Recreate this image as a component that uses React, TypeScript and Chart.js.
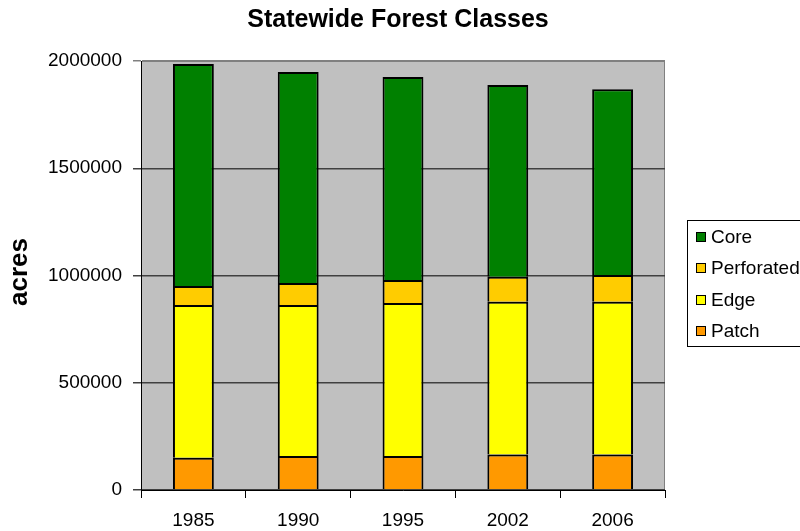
import React, { useEffect, useRef } from "react";
import { Chart, registerables } from "chart.js";

Chart.register(...registerables);

const years = ["1985", "1990", "1995", "2002", "2006"];
const patch = [150000, 158000, 158000, 166000, 166000];
const edge = [712000, 704000, 714000, 712000, 712000];
const perforated = [89000, 103000, 107000, 116000, 124000];
const core = [1035000, 984000, 946000, 894000, 866000];
const yTicks = [0, 500000, 1000000, 1500000, 2000000];

const seriesNames = ["Patch", "Edge", "Perforated", "Core"];
const seriesColors = ["#FF9900", "#FFFF00", "#FFCC00", "#008000"];

const FONT = "'Liberation Sans', Arial, sans-serif";

const decorPlugin = {
  id: "decor",
  beforeDraw(chart: any) {
    const { ctx, chartArea } = chart;
    ctx.save();
    ctx.fillStyle = "#ffffff";
    ctx.fillRect(0, 0, chart.width, chart.height);
    ctx.fillStyle = "#C0C0C0";
    ctx.fillRect(chartArea.left, chartArea.top, chartArea.right - chartArea.left, chartArea.bottom - chartArea.top);
    ctx.strokeStyle = "#808080";
    ctx.lineWidth = 1;
    ctx.strokeRect(chartArea.left + 0.5, chartArea.top + 0.5, chartArea.right - chartArea.left - 1, chartArea.bottom - chartArea.top - 1);
    ctx.restore();
  },
  afterDraw(chart: any) {
    const { ctx } = chart;
    ctx.save();
    // title
    ctx.fillStyle = "#000";
    ctx.font = `bold 25px ${FONT}`;
    ctx.textAlign = "center";
    ctx.textBaseline = "middle";
    ctx.fillText("Statewide Forest Classes", 398, 20);
    // y title
    ctx.save();
    ctx.translate(20, 272);
    ctx.rotate(-Math.PI / 2);
    ctx.font = `bold 26px ${FONT}`;
    ctx.fillText("acres", 0, 0);
    ctx.restore();
    // legend
    const lx = 687, ly = 220, lw = 130, lh = 127;
    ctx.fillStyle = "#ffffff";
    ctx.fillRect(lx, ly, lw, lh);
    ctx.strokeStyle = "#000";
    ctx.lineWidth = 1;
    ctx.strokeRect(lx + 0.5, ly + 0.5, lw, lh - 1);
    const order = [3, 2, 1, 0];
    const ys = [237, 268, 300, 331];
    ctx.font = `19px ${FONT}`;
    ctx.textAlign = "left";
    ctx.textBaseline = "middle";
    order.forEach((si, i) => {
      const y = ys[i];
      ctx.fillStyle = seriesColors[si];
      ctx.fillRect(696, y - 5, 10, 10);
      ctx.strokeStyle = "#000";
      ctx.strokeRect(696.5, y - 4.5, 9, 9);
      ctx.fillStyle = "#000";
      ctx.fillText(seriesNames[si], 711, y + 1);
    });
    ctx.restore();
  },
};

export default function App() {
  const ref = useRef<HTMLCanvasElement | null>(null);
  useEffect(() => {
    if (!ref.current) return;
    const values = [patch, edge, perforated, core];
    const chart = new Chart(ref.current, {
      type: "bar",
      data: {
        labels: years,
        datasets: values.map((d, i) => ({
          label: seriesNames[i],
          data: d,
          backgroundColor: seriesColors[i],
          borderColor: "#000",
          borderWidth: 2,
          barPercentage: 0.39,
          categoryPercentage: 1,
        })),
      },
      options: {
        responsive: false,
        animation: false,
        layout: { padding: { top: 61, right: 135, bottom: 0, left: 0 } },
        plugins: { legend: { display: false }, title: { display: false }, tooltip: { enabled: false } },
        scales: {
          x: {
            stacked: true,
            afterFit: (s: any) => { s.height = 41; },
            grid: { drawOnChartArea: false, offset: true, tickLength: 8, color: "#000", lineWidth: 1 },
            border: { display: true, color: "#000", width: 1 },
            ticks: { color: "#000", padding: 11, font: { family: FONT, size: 19 } },
          },
          y: {
            stacked: true,
            min: 0,
            max: 2000000,
            afterFit: (s: any) => { s.width = 141; },
            afterBuildTicks: (s: any) => { s.ticks = yTicks.map((v) => ({ value: v })); },
            grid: {
              tickLength: 8,
              color: (c: any) => (c.tick && c.tick.value === 2000000 ? "#808080" : "#404040"),
              lineWidth: 1.5,
            },
            border: { display: true, color: "#000", width: 1 },
            ticks: {
              color: "#000",
              padding: 11,
              font: { family: FONT, size: 19 },
              callback: (v: any) => String(v),
            },
          },
        },
      },
      plugins: [decorPlugin],
    });
    return () => chart.destroy();
  }, []);
  return (
    <div style={{ position: "fixed", left: 0, top: 0, width: 800, height: 531 }}>
      <canvas ref={ref} width={800} height={531} style={{ width: 800, height: 531 }} />
    </div>
  );
}
